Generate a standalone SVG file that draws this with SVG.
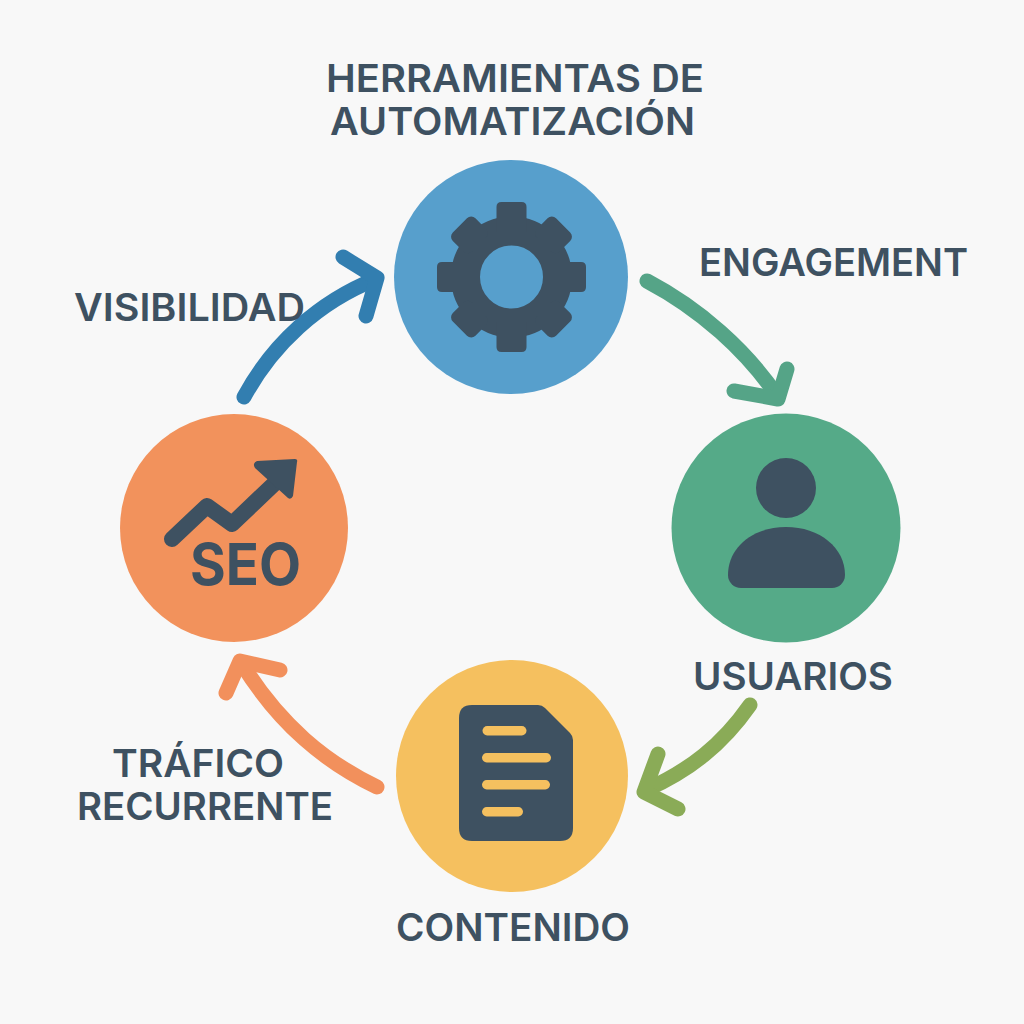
<svg xmlns="http://www.w3.org/2000/svg" width="1024" height="1024" viewBox="0 0 1024 1024">
<style>
.t{font-family:"Inter","Liberation Sans",sans-serif;font-weight:600;fill:#3e5161;font-size:38px}
.d{fill:#3e5161}
.a{fill:none;stroke-width:15;stroke-linecap:round;stroke-linejoin:round}
.b{fill:#f5c05f}
</style>
<rect width="1024" height="1024" fill="#f8f8f8"/>
<g id="connectors">
<g class="a" stroke="#327eb0"><path d="M244 397C272 345 318 302 376 279"/><path d="M343 257L377 278L366 316"/></g>
<g class="a" stroke="#55a487"><path d="M647 281C700 309 746 350 778 397"/><path d="M787 369L778 399L734 391"/></g>
<g class="a" stroke="#8aab57"><path d="M750 705C722 745 690 770 646 790"/><path d="M658 754L644 792L678 809"/></g>
<g class="a" stroke="#f2905c"><path d="M377 787C325 762 280 725 242 664"/><path d="M226 693L240 661L280 670"/></g>
</g>
<g id="node-automatizacion">
<circle cx="511" cy="277" r="117" fill="#579fcc"/>
<circle cx="511.500" cy="277" r="46" fill="none" stroke="#3e5161" stroke-width="29"/>
<g class="d">
<path id="tooth" d="M496.500 232V207Q496.500 202 501.500 202H521.500Q526.500 202 526.500 207V232Z"/>
<path d="M496.500 322V347Q496.500 352 501.500 352H521.500Q526.500 352 526.500 347V322Z"/>
<path d="M466 262H442Q437 262 437 267V287Q437 292 442 292H466Z"/>
<path d="M556 262H581Q586 262 586 267V287Q586 292 581 292H556Z"/>
<rect x="495.500" y="204" width="32" height="27" rx="6" transform="rotate(45 511.500 277)"/><rect x="495.500" y="204" width="32" height="27" rx="6" transform="rotate(135 511.500 277)"/><rect x="495.500" y="204" width="32" height="27" rx="6" transform="rotate(225 511.500 277)"/><rect x="495.500" y="204" width="32" height="27" rx="6" transform="rotate(315 511.500 277)"/>
</g>
<text class="t" x="326" y="92" textLength="378" lengthAdjust="spacingAndGlyphs">HERRAMIENTAS DE</text>
<text class="t" x="330" y="135" textLength="365" lengthAdjust="spacingAndGlyphs">AUTOMATIZACIÓN</text>
</g>
<g id="node-usuarios">
<circle cx="786" cy="528" r="114.500" fill="#55aa88"/>
<circle class="d" cx="786" cy="488" r="30"/>
<path class="d" d="M741 588a13 13 0 0 1-13-13C728 548 752 527 786 527S845 548 845 575a13 13 0 0 1-13 13Z"/>
<text class="t" x="693" y="690" textLength="200" lengthAdjust="spacingAndGlyphs">USUARIOS</text>
<text class="t" x="699" y="276" textLength="269" lengthAdjust="spacingAndGlyphs">ENGAGEMENT</text>
</g>
<g id="node-contenido">
<circle cx="512" cy="776" r="116" fill="#f5c05f"/>
<path class="d" d="M472 705H538Q542 705 545 708L570 733Q573 736 573 740V828Q573 841 560 841H472Q459 841 459 828V718Q459 705 472 705Z"/>
<rect class="b" x="482.500" y="726" width="44" height="9.500" rx="4.700"/>
<rect class="b" x="482" y="753" width="69" height="9.500" rx="4.700"/>
<rect class="b" x="482" y="780" width="68" height="9.500" rx="4.700"/>
<rect class="b" x="482" y="807" width="41" height="9.500" rx="4.700"/>
<text class="t" x="396" y="941" textLength="234" lengthAdjust="spacingAndGlyphs">CONTENIDO</text>
<text class="t" x="112" y="777" textLength="172" lengthAdjust="spacingAndGlyphs">TRÁFICO</text>
<text class="t" x="77" y="820" textLength="256" lengthAdjust="spacingAndGlyphs">RECURRENTE</text>
</g>
<g id="node-seo">
<circle cx="234" cy="528" r="114" fill="#f2925c"/>
<path d="M172 539L207 506L232 524L274 484" fill="none" stroke="#3e5161" stroke-width="16" stroke-linecap="round" stroke-linejoin="round"/>
<path class="d" d="M257 461L295 459Q298 459 297 462L293 496Q291 500 288 498L255 468Q252 463 257 461Z"/>
<text x="190" y="585" textLength="111" lengthAdjust="spacingAndGlyphs" style="font-family:Inter,'Liberation Sans',sans-serif;font-weight:700;font-size:58px;fill:#3e5161">SEO</text>
<text class="t" x="74" y="321" textLength="231" lengthAdjust="spacingAndGlyphs">VISIBILIDAD</text>
</g>
</svg>
